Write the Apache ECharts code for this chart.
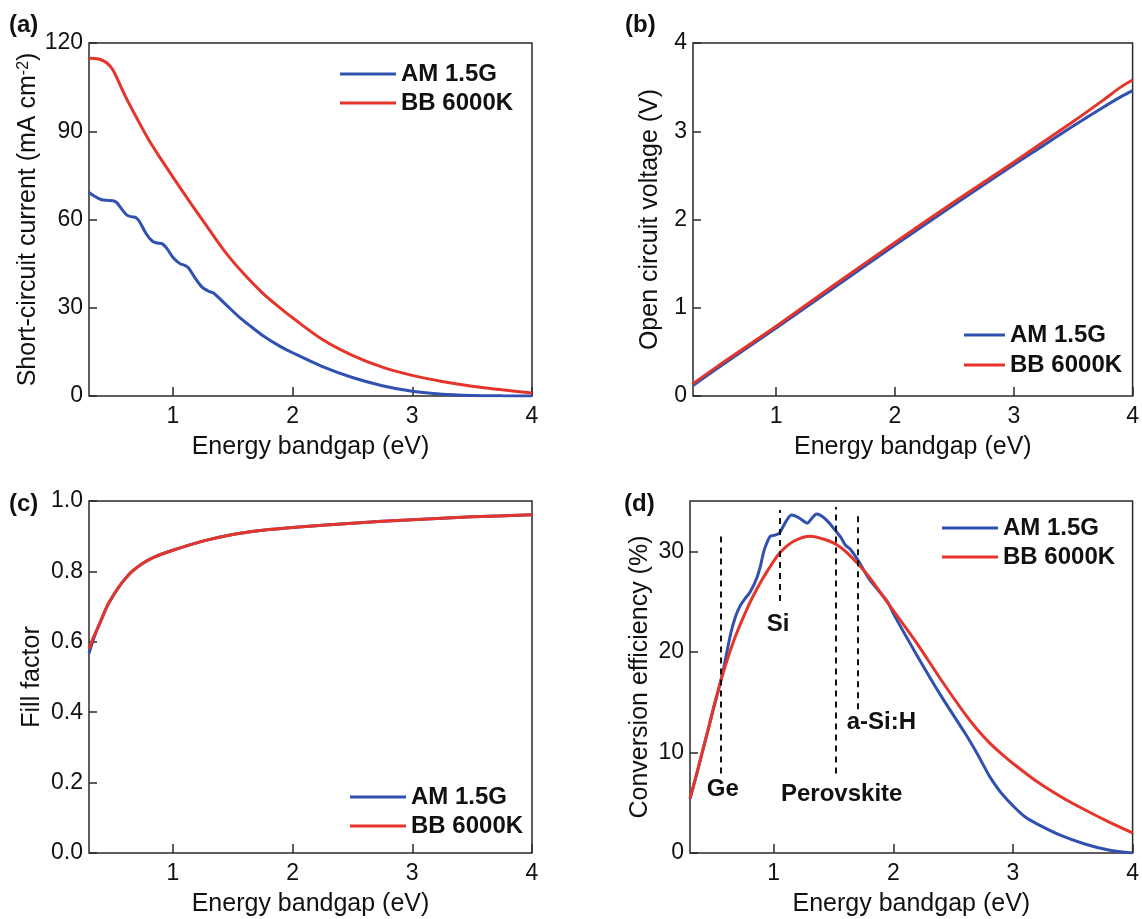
<!DOCTYPE html>
<html><head><meta charset="utf-8">
<script src="https://cdn.jsdelivr.net/npm/echarts@6/dist/echarts.min.js"></script>
<style>html,body{margin:0;padding:0;background:#fff}#c{width:1142px;height:919px}</style>
</head><body><div id="c"></div>
<script>
const FONT = 'Liberation Sans, Arial, Helvetica, sans-serif';
const seriesNames = ['AM 1.5G', 'BB 6000K'];
const colors = ['#3151b0', '#e5352b'];
const xTicks = [1, 2, 3, 4];
const aTicks = [0, 30, 60, 90, 120];
const bTicks = [0, 1, 2, 3, 4];
const cTicks = [0, 0.2, 0.4, 0.6, 0.8, 1.0];
const dTicks = [0, 10, 20, 30];

// (a) short-circuit current
const aX_am = [0.30,0.35,0.40,0.45,0.50,0.53,0.58,0.62,0.66,0.69,0.72,0.78,0.83,0.87,0.91,0.95,1.00,1.06,1.10,1.13,1.18,1.24,1.30,1.34,1.45,1.55,1.65,1.75,1.90,2.00,2.25,2.50,2.75,3.00,3.25,3.50,3.75,4.00];
const aY_am = [69.2,67.8,66.8,66.5,66.4,65.8,63.2,61.4,60.9,60.7,59.4,55.0,52.6,52.0,51.8,50.2,47.2,45.0,44.4,43.6,40.5,37.2,35.6,35.0,30.8,27.0,23.7,20.6,16.8,14.7,10.0,6.3,3.5,1.6,0.6,0.2,0.05,0.0];
const aX_bb = [0.30,0.35,0.40,0.45,0.50,0.60,0.70,0.80,0.90,1.00,1.15,1.30,1.45,1.60,1.75,1.90,2.00,2.25,2.50,2.75,3.00,3.25,3.50,3.75,4.00];
const aY_bb = [114.8,114.7,114.3,113.2,110.8,102.2,94.4,87.0,80.6,74.5,65.5,56.8,48.3,41.2,35.0,29.8,26.6,19.2,13.8,9.8,7.0,4.9,3.3,2.1,1.0];

// (b) open circuit voltage
const bX = [0.30,0.50,1.00,1.50,2.00,2.50,3.00,3.25,3.50,3.75,3.90,4.00];
const bY_am = [0.12,0.31,0.77,1.24,1.71,2.17,2.62,2.84,3.06,3.27,3.39,3.46];
const bY_bb = [0.14,0.33,0.79,1.27,1.74,2.20,2.65,2.88,3.11,3.35,3.50,3.58];

// (c) fill factor
const cX = [0.30,0.33,0.36,0.40,0.45,0.50,0.55,0.60,0.66,0.75,0.84,1.00,1.25,1.50,1.75,2.00,2.50,3.00,3.50,4.00];
const cY_am = [0.567,0.600,0.628,0.660,0.700,0.730,0.756,0.778,0.800,0.823,0.840,0.860,0.886,0.905,0.917,0.925,0.937,0.947,0.955,0.961];
const cY_bb = [0.580,0.607,0.630,0.661,0.700,0.730,0.756,0.778,0.800,0.823,0.840,0.860,0.886,0.905,0.917,0.925,0.937,0.947,0.955,0.961];

// (d) conversion efficiency
const dX_am = [0.30,0.35,0.40,0.45,0.50,0.54,0.58,0.64,0.68,0.72,0.76,0.805,0.86,0.89,0.917,0.945,0.972,1.01,1.048,1.08,1.12,1.15,1.20,1.25,1.28,1.32,1.36,1.40,1.45,1.52,1.56,1.60,1.64,1.71,1.80,1.95,2.00,2.20,2.40,2.60,2.70,2.80,2.85,2.90,3.00,3.10,3.20,3.40,3.60,3.80,4.00];
const dY_am = [5.4,7.6,9.9,12.2,14.5,16.3,18.3,21.8,23.5,24.6,25.3,26.0,27.4,28.6,30.0,30.9,31.5,31.6,31.8,32.5,33.3,33.6,33.4,33.0,32.8,33.3,33.7,33.5,33.0,32.0,31.4,30.6,30.2,29.0,27.2,25.0,23.8,19.6,15.6,11.9,9.9,7.7,6.8,6.0,4.7,3.6,2.9,1.75,0.9,0.3,0.0];
const dX_bb = [0.30,0.35,0.40,0.45,0.50,0.55,0.60,0.666,0.73,0.805,0.875,0.945,1.048,1.167,1.306,1.446,1.52,1.60,1.70,1.80,1.946,2.00,2.20,2.40,2.60,2.70,2.80,2.90,3.00,3.20,3.40,3.60,3.80,4.00];
const dY_bb = [5.4,7.6,9.9,12.2,14.6,16.8,18.8,21.1,23.0,25.0,26.6,28.0,29.8,31.0,31.5,31.1,30.7,30.0,28.8,27.4,25.0,24.1,20.8,17.2,13.8,12.3,11.0,9.9,8.9,7.1,5.6,4.3,3.1,2.0];

// (d) material bandgap markers
const matNames = ['Ge', 'Si', 'Perovskite', 'a-Si:H'];
const matX = [0.555, 1.05, 1.52, 1.70];
const matTop = [31.6, 34.1, 34.4, 33.5];
const matBottom = [7.9, 25.05, 7.9, 14.3];
const matLabelX = [0.574, 1.036, 1.568, 1.90];
const matLabelY = [6.3, 22.7, 5.8, 13.0];

const panelLabels = ['(a)', '(b)', '(c)', '(d)'];

const zip = (xs, ys) => xs.map((x, i) => [x, ys[i]]);

const grids = [
  {left: 89, top: 43, width: 443, height: 353},
  {left: 693, top: 43, width: 443, height: 353},
  {left: 89, top: 501, width: 443, height: 352},
  {left: 690, top: 501, width: 444, height: 352}
].map(g => Object.assign({show: true, borderColor: '#2a2a2a', borderWidth: 1.5, backgroundColor: 'transparent'}, g));

function xAxis(i) {
  return {
    type: 'value', gridIndex: i, min: 0.3, max: 4,
    name: 'Energy bandgap (eV)', nameLocation: 'middle', nameGap: 39,
    nameTextStyle: {fontSize: 25, color: '#111', fontFamily: FONT},
    axisLine: {show: false},
    axisTick: {show: true, inside: true, length: 9, customValues: xTicks, lineStyle: {color: '#2a2a2a', width: 1.5}},
    axisLabel: {customValues: xTicks, fontSize: 23, color: '#111', margin: 9, fontFamily: FONT},
    splitLine: {show: false}
  };
}
function yAxis(i, max, ticks, name, gap, fmt, rich) {
  return {
    type: 'value', gridIndex: i, min: 0, max: max,
    name: name, nameLocation: 'middle', nameGap: gap,
    nameTextStyle: Object.assign({fontSize: 25, color: '#111', fontFamily: FONT, lineHeight: 25}, rich ? {rich: rich} : {}),
    axisLine: {show: false},
    axisTick: {show: true, inside: true, length: 8, customValues: ticks, lineStyle: {color: '#2a2a2a', width: 1.5}},
    axisLabel: {customValues: ticks, fontSize: 23, color: '#111', margin: 6, fontFamily: FONT, formatter: fmt},
    splitLine: {show: false}
  };
}

function lineSeries(i, k, data) {
  return {
    type: 'line', name: seriesNames[k], xAxisIndex: i, yAxisIndex: i,
    data: data, symbol: 'none', showSymbol: false, smooth: 0.3,
    color: colors[k], lineStyle: {width: 3, color: colors[k]}, z: 3 + k, animation: false
  };
}

function legend(left, top, width, gap) {
  return {
    data: seriesNames, orient: 'vertical', left: left, top: top, padding: 0,
    icon: 'rect', itemWidth: width, itemHeight: 3, itemGap: gap,
    selectedMode: false,
    textStyle: {fontSize: 24, fontWeight: 'bold', color: '#111', fontFamily: FONT, lineHeight: 24}
  };
}

const matLines = matX.map((x, i) => [{coord: [x, matBottom[i]]}, {coord: [x, matTop[i]]}]);

const option = {
  animation: false,
  backgroundColor: '#fff',
  textStyle: {fontFamily: FONT},
  grid: grids,
  xAxis: [xAxis(0), xAxis(1), xAxis(2), xAxis(3)],
  yAxis: [
    yAxis(0, 120, aTicks, 'Short-circuit current (mA cm{sup|-2})', 46, v => String(v), {sup: {fontSize: 16, lineHeight: 14, verticalAlign: 'top', color: '#111', fontFamily: FONT}}),
    yAxis(1, 4, bTicks, 'Open circuit voltage (V)', 30, v => String(v)),
    yAxis(2, 1, cTicks, 'Fill factor', 44, v => v.toFixed(1)),
    yAxis(3, 35, dTicks, 'Conversion efficiency (%)', 37, v => String(v))
  ],
  legend: [
    legend(340, 62, 56, 5),
    legend(964, 323, 41, 6),
    legend(350, 785, 56, 5),
    legend(942, 516, 56, 5)
  ],
  graphic: panelLabels.map((t, i) => ({
    type: 'text', left: [9, 625, 9, 624][i], top: [13, 13, 492, 492][i],
    style: {text: t, fontSize: 24, fontWeight: 'bold', fill: '#111', fontFamily: FONT}
  })),
  series: [
    lineSeries(0, 0, zip(aX_am, aY_am)),
    lineSeries(0, 1, zip(aX_bb, aY_bb)),
    lineSeries(1, 0, zip(bX, bY_am)),
    lineSeries(1, 1, zip(bX, bY_bb)),
    lineSeries(2, 0, zip(cX, cY_am)),
    lineSeries(2, 1, zip(cX, cY_bb)),
    lineSeries(3, 0, zip(dX_am, dY_am)),
    lineSeries(3, 1, zip(dX_bb, dY_bb)),
    {
      type: 'scatter', name: 'materials', xAxisIndex: 3, yAxisIndex: 3,
      data: matNames.map((n, i) => ({name: n, value: [matLabelX[i], matLabelY[i]]})),
      symbol: 'circle', symbolSize: 2, itemStyle: {color: 'rgba(0,0,0,0)', opacity: 1}, silent: true, z: 6,
      label: {show: true, position: 'inside', formatter: p => p.name, fontSize: 24, fontWeight: 'bold', color: '#111', opacity: 1, textBorderWidth: 0, fontFamily: FONT},
      markLine: {
        silent: true, symbol: ['none', 'none'], label: {show: false},
        lineStyle: {type: [6, 5], color: '#111', width: 2, opacity: 1},
        data: matLines
      }
    }
  ]
};

const chart = echarts.init(document.getElementById('c'), null, {renderer: 'canvas'});
chart.setOption(option);
</script>
</body></html>
